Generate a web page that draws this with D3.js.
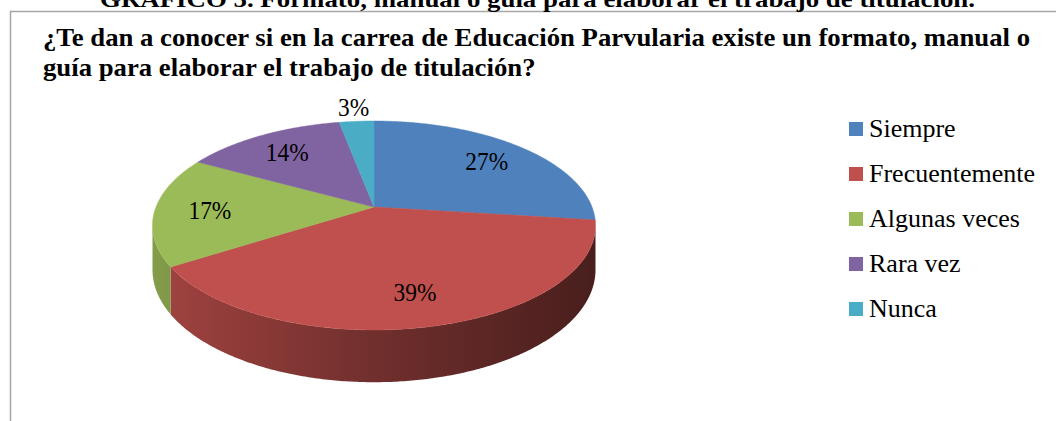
<!DOCTYPE html>
<html>
<head>
<meta charset="utf-8">
<script src="https://cdn.jsdelivr.net/npm/d3@7"></script>
<style>
  body { margin: 0; background: #fff; }
  svg { display: block; font-family: 'Liberation Serif', 'Times New Roman', serif; }
</style>
</head>
<body>
<div id="chart"></div>
<script>
const categories = ['Siempre', 'Frecuentemente', 'Algunas veces', 'Rara vez', 'Nunca'];
const values = [27, 39, 17, 14, 3];
const palette = ['#4f81bd', '#c0504d', '#9bbb59', '#8064a2', '#4bacc6'];
const caption = 'GRÁFICO 5. Formato, manual o guía para elaborar el trabajo de titulación.';
const titleLines = [
  '¿Te dan a conocer si en la carrea de Educación Parvularia existe un formato, manual o',
  'guía para elaborar el trabajo de titulación?'
];

const width = 1056, height = 421;

const svg = d3.select('#chart').append('svg')
  .attr('width', width).attr('height', height);

const color = d3.scaleOrdinal().domain(categories).range(palette);

// outer frame (right and bottom edges run off the picture)
svg.append('rect')
  .attr('x', 10.5).attr('y', 11.5)
  .attr('width', 1100).attr('height', 500)
  .attr('fill', 'none').attr('stroke', '#a6a6a6').attr('stroke-width', 1.5);

// caption cut at the top
svg.append('text')
  .attr('x', 100).attr('y', 7)
  .attr('font-weight', 'bold').attr('font-size', 24)
  .attr('textLength', 875).attr('lengthAdjust', 'spacingAndGlyphs')
  .text(caption);

// chart title, two lines, squeezed to the same width ratio
const tl = svg.selectAll('.title').data(titleLines).join('text')
  .attr('class', 'title')
  .attr('x', 43).attr('y', (d, i) => 46 + i * 30)
  .attr('font-weight', 'bold').attr('font-size', 25)
  .text(d => d);
const natural = tl.nodes().map(n => n.getComputedTextLength());
const squeeze = 987 / natural[0];
tl.attr('textLength', (d, i) => natural[i] * squeeze)
  .attr('lengthAdjust', 'spacingAndGlyphs');

// perspective pie
const cx = 374, cy = 207, sx = 218, sy = 101.2, p = 0.177, depth = 43;

const proj = (a, r, drop = 0) => {
  const x = r * Math.sin(a), z = r * Math.cos(a);
  const s = 1 / (1 + p * z);
  return [cx + sx * x * s, cy - sy * z * s + drop * s];
};

const arcPts = (a0, a1, r, drop) => {
  const n = Math.max(2, Math.ceil((a1 - a0) / 0.01));
  return d3.range(n + 1).map(i => proj(a0 + (a1 - a0) * i / n, r, drop));
};

const pie = d3.pie().sort(null).value(d => d.value);
const slices = pie(categories.map((c, i) => ({ name: c, value: values[i] })));

const defs = svg.append('defs');
slices.forEach((s, i) => {
  const base = d3.color(color(s.data.name));
  const g = defs.append('linearGradient')
    .attr('id', 'side' + i)
    .attr('gradientUnits', 'userSpaceOnUse')
    .attr('x1', cx - sx).attr('x2', cx + sx).attr('y1', 0).attr('y2', 0);
  g.append('stop').attr('offset', 0).attr('stop-color', base.darker(0.5));
  g.append('stop').attr('offset', 0.5).attr('stop-color', base.darker(1.5));
  g.append('stop').attr('offset', 1).attr('stop-color', base.darker(2.7));
});

const line = d3.line();
const visR = Math.acos(-p), visL = 2 * Math.PI - visR;

const sides = svg.append('g');
slices.forEach((s, i) => {
  const a0 = Math.max(s.startAngle, visR), a1 = Math.min(s.endAngle, visL);
  if (a1 <= a0) return;
  const pts = arcPts(a0, a1, 1, 0).concat(arcPts(a0, a1, 1, depth).reverse());
  sides.append('path')
    .attr('d', line(pts) + 'Z')
    .attr('fill', `url(#side${i})`);
});

svg.append('g').selectAll('path').data(slices).join('path')
  .attr('d', s => line([proj(0, 0)].concat(arcPts(s.startAngle, s.endAngle, 1, 0))) + 'Z')
  .attr('fill', s => color(s.data.name))
  .attr('stroke', s => color(s.data.name)).attr('stroke-width', 0.5);

svg.append('g').selectAll('text').data(slices).join('text')
  .attr('transform', s => {
    const mid = (s.startAngle + s.endAngle) / 2;
    const r = s.data.value < 5 ? 1.2 : 0.75;
    return `translate(${proj(mid, r)}) scale(0.9,1)`;
  })
  .attr('text-anchor', 'middle').attr('dy', '0.35em')
  .attr('font-size', 26).attr('fill', '#000')
  .text(s => s.data.value + '%');

// legend
const legend = svg.append('g').attr('transform', 'translate(849,122)')
  .selectAll('g').data(categories).join('g')
  .attr('transform', (d, i) => `translate(0,${i * 45})`);
legend.append('rect').attr('width', 14).attr('height', 14).attr('fill', d => color(d));
legend.append('text').attr('x', 20).attr('y', 15)
  .attr('font-size', 26).attr('fill', '#000')
  .text(d => d);
</script>
</body>
</html>
